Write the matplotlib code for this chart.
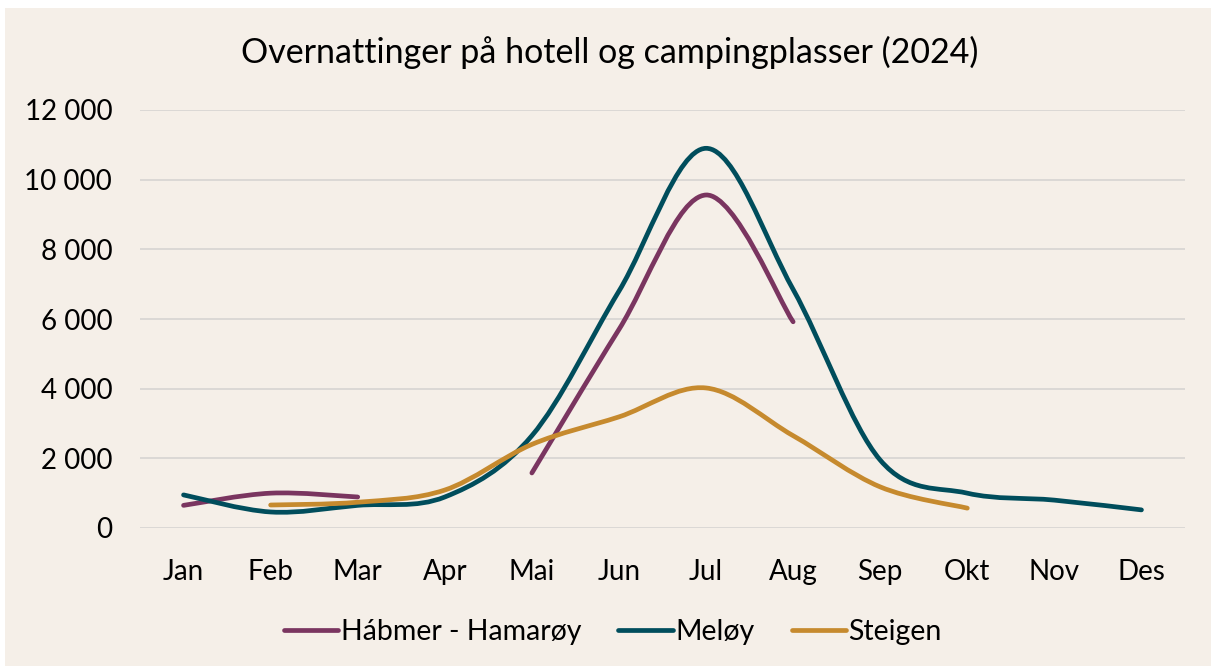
import numpy as np
import matplotlib.pyplot as plt
from matplotlib.path import Path
from matplotlib.patches import PathPatch, Rectangle
from matplotlib.lines import Line2D
from matplotlib.ticker import FuncFormatter

plt.rcParams['font.family'] = ['Lato', 'DejaVu Sans']

months = ['Jan', 'Feb', 'Mar', 'Apr', 'Mai', 'Jun', 'Jul', 'Aug', 'Sep', 'Okt', 'Nov', 'Des']
habmer = [650, 1000, 890, None, 1580, 5700, 9560, 5920, None, None, None, None]
meloy = [950, 460, 650, 890, 2650, 6800, 10900, 6850, 1950, 1000, 800, 520]
steigen = [None, 660, 740, 1090, 2400, 3190, 4020, 2650, 1180, 570, None, None]

series = [('Hábmer - Hamarøy', habmer, '#7A3560'),
          ('Meløy', meloy, '#004D5C'),
          ('Steigen', steigen, '#C68A2E')]

bg = '#F5EFE8'


def smooth_path(xs, ys):
    # Excel-like smoothed line: cubic bezier, catmull-rom control points
    pts = np.column_stack([xs, ys]).astype(float)
    n = len(pts)
    verts = [pts[0]]
    codes = [Path.MOVETO]
    for i in range(n - 1):
        p0 = pts[i - 1] if i > 0 else pts[i]
        p1 = pts[i]
        p2 = pts[i + 1]
        p3 = pts[i + 2] if i + 2 < n else pts[i + 1]
        c1 = p1 + (p2 - p0) / 6
        c2 = p2 - (p3 - p1) / 6
        verts += [c1, c2, p2]
        codes += [Path.CURVE4] * 3
    return Path(verts, codes)


def runs(vals):
    out = []
    cur = []
    for i, v in enumerate(vals):
        if v is None:
            if cur:
                out.append(cur)
            cur = []
        else:
            cur.append(i)
    if cur:
        out.append(cur)
    return out


fig = plt.figure(figsize=(12.11, 6.66), dpi=100)
fig.patch.set_facecolor('white')
fig.patches.append(Rectangle((5 / 1211, 0), 1, 1 - 8 / 666, transform=fig.transFigure,
                             facecolor=bg, edgecolor='none', zorder=-10))

ax = fig.add_axes([140 / 1211, 1 - 528 / 666, 1045 / 1211, 418 / 666])
ax.set_facecolor(bg)
x = np.arange(len(months))

for name, vals, col in series:
    for r in runs(vals):
        xs = x[r]
        ys = [vals[i] for i in r]
        p = smooth_path(xs, ys)
        ax.add_patch(PathPatch(p, facecolor='none', edgecolor=col, lw=3.4,
                               capstyle='round', joinstyle='round', zorder=3))

ax.set_xlim(-0.5, 11.5)
ax.set_ylim(0, 12000)
ax.set_yticks(range(0, 12001, 2000))
ax.yaxis.set_major_formatter(FuncFormatter(lambda v, p: f'{int(v):,}'.replace(',', ' ')))
ax.set_xticks(x)
ax.set_xticklabels(months)
ax.grid(axis='y', color='#D9D6D3', lw=1.3)
ax.set_axisbelow(True)
for s in ax.spines.values():
    s.set_visible(False)
ax.tick_params(length=0, labelsize=20, colors='black')
ax.tick_params(axis='y', pad=20)
ax.tick_params(axis='x', pad=22)

fig.text(0.5 * (235 + 985) / 1211, 1 - 52 / 666, 'Overnattinger på hotell og campingplasser (2024)',
         ha='center', va='center', fontsize=24.5)

handles = [Line2D([], [], color=c, lw=3.4, solid_capstyle='round') for _, _, c in series]
fig.legend(handles, [n for n, _, _ in series], loc='center', bbox_to_anchor=(613 / 1211, 1 - 632 / 666),
           ncol=3, frameon=False, fontsize=20.5, handlelength=1.9, handletextpad=0.1, columnspacing=1.3)

plt.savefig('out.png', dpi=100, facecolor=fig.get_facecolor())
